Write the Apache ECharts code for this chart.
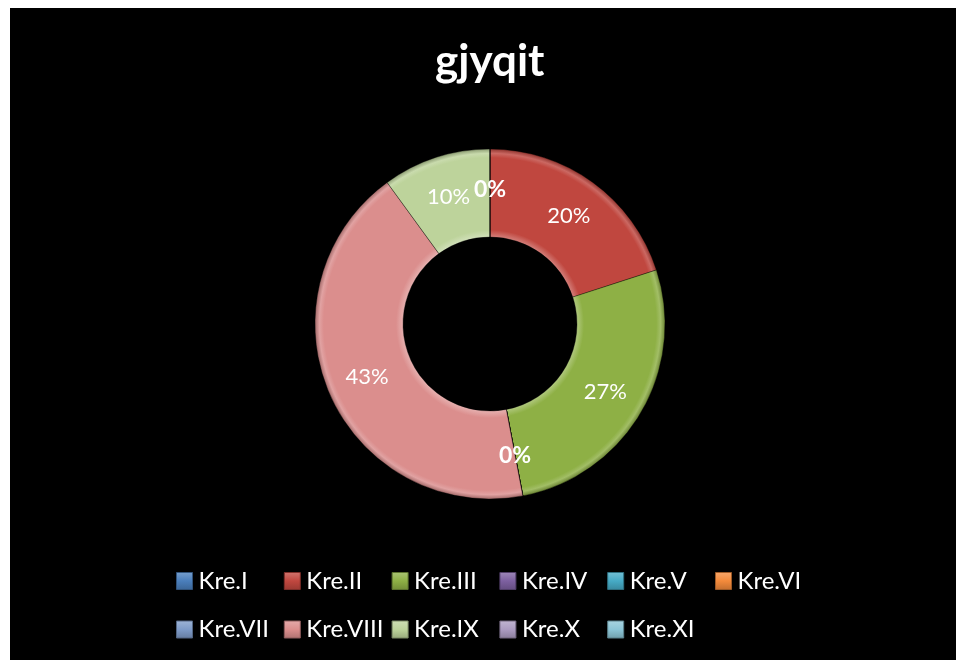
<!DOCTYPE html>
<html>
<head>
<meta charset="UTF-8">
<title>gjyqit</title>
<style>
    html,body{margin:0;padding:0;background:#fff;}
    #chart{position:absolute;left:10px;top:8px;width:946px;height:652px;}
</style>
</head>
<body>
<div id="chart"></div>
<script src="https://cdn.jsdelivr.net/npm/echarts@6/dist/echarts.min.js"></script>
<script>
// data
var categories = ['Kre.I', 'Kre.II', 'Kre.III', 'Kre.IV', 'Kre.V', 'Kre.VI',
                  'Kre.VII', 'Kre.VIII', 'Kre.IX', 'Kre.X', 'Kre.XI'];
var values = [0, 20, 27, 0, 0, 0, 0, 43, 10, 0, 0];
var colors = ['#4A7EBB', '#C0473F', '#8EB045', '#7D60A0', '#46AAC5', '#F38A3B',
              '#7E9BC8', '#DB8E8D', '#BDD39B', '#AC9CC1', '#8CC5D6'];

var CX = 480, CY = 316, R_IN = 87, R_OUT = 175;

// mix a hex colour towards white (amt > 0) or black (amt < 0)
function shade(hex, amt) {
    var n = parseInt(hex.slice(1), 16);
    var c = [(n >> 16) & 255, (n >> 8) & 255, n & 255];
    for (var k = 0; k < 3; k++) {
        c[k] = amt > 0 ? Math.round(c[k] + (255 - c[k]) * amt) : Math.round(c[k] * (1 + amt));
    }
    return 'rgb(' + c.join(',') + ')';
}

// ring-shaped bevel: light inner rim, flat body, light then dark outer rim
function bevel(hex) {
    var a = R_IN / R_OUT;
    return new echarts.graphic.RadialGradient(CX, CY, R_OUT, [
        {offset: a, color: shade(hex, 0.3)},
        {offset: a + 0.04, color: hex},
        {offset: 0.95, color: hex},
        {offset: 0.975, color: shade(hex, 0.18)},
        {offset: 1, color: shade(hex, -0.25)}
    ], true);
}

var chart = echarts.init(document.getElementById('chart'));

var pieData = [];
for (var i = 0; i < categories.length; i++) {
    var item = {name: categories[i], value: values[i], itemStyle: {color: bevel(colors[i])}};
    if (values[i] === 0) {
        item.label = {fontWeight: 'bold', fontSize: 23};
    }
    pieData.push(item);
}

// one legend per item so they sit on a fixed grid, 6 per row
var legends = [];
for (var j = 0; j < categories.length; j++) {
    var col = j % 6, row = Math.floor(j / 6);
    legends.push({
        data: [categories[j]],
        left: 161 + col * 107.8,
        top: 556 + row * 48.5,
        itemWidth: 16,
        itemHeight: 17,
        icon: 'rect',
        itemStyle: {
            color: new echarts.graphic.LinearGradient(0, 0, 0, 1, [
                {offset: 0, color: shade(colors[j], 0.25)},
                {offset: 0.5, color: colors[j]},
                {offset: 1, color: shade(colors[j], -0.2)}
            ]),
            borderColor: shade(colors[j], -0.35),
            borderWidth: 1
        },
        textStyle: {color: '#fff', fontFamily: 'Lato', fontSize: 24, padding: [0, 0, 0, 1]}
    });
}

var option = {
    backgroundColor: '#000',
    animation: false,
    title: {
        text: 'gjyqit',
        left: 420,
        top: 27,
        textStyle: {color: '#fff', fontFamily: 'Lato', fontWeight: 'bold', fontSize: 44}
    },
    legend: legends,
    series: [{
        type: 'pie',
        center: [CX, CY],
        radius: [R_IN, R_OUT],
        startAngle: 90,
        clockwise: true,
        avoidLabelOverlap: false,
        label: {
            show: true,
            position: 'inside',
            formatter: '{d}%',
            color: '#fff',
            fontFamily: 'Lato',
            fontSize: 22
        },
        labelLine: {show: false},
        itemStyle: {borderColor: 'rgba(0,0,0,0.35)', borderWidth: 1},
        emphasis: {disabled: true},
        data: pieData
    }]
};

chart.setOption(option);
</script>
</body>
</html>
